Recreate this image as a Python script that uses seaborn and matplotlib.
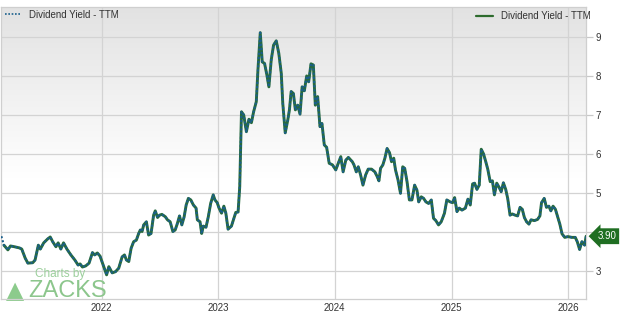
import numpy as np
import pandas as pd
import matplotlib
matplotlib.use("Agg")
import matplotlib.pyplot as plt
import matplotlib.transforms as mtransforms
import seaborn as sns

# ---- data (decimal year, dividend yield %) ----
years = [
    2021.162, 2021.196, 2021.218, 2021.252, 2021.295, 2021.315, 2021.344, 2021.367, 2021.409, 2021.429,
    2021.457, 2021.474, 2021.503, 2021.537, 2021.559, 2021.580, 2021.608, 2021.627, 2021.650, 2021.673,
    2021.702, 2021.736, 2021.770, 2021.798, 2021.815, 2021.835, 2021.864, 2021.892, 2021.921, 2021.940,
    2021.963, 2021.986, 2022.014, 2022.043, 2022.062, 2022.091, 2022.119, 2022.147, 2022.176, 2022.196,
    2022.213, 2022.233, 2022.253, 2022.275, 2022.298, 2022.318, 2022.332, 2022.347, 2022.361, 2022.384,
    2022.403, 2022.424, 2022.446, 2022.460, 2022.480, 2022.497, 2022.517, 2022.546, 2022.565, 2022.588,
    2022.611, 2022.631, 2022.650, 2022.668, 2022.688, 2022.708, 2022.725, 2022.744, 2022.765, 2022.787,
    2022.810, 2022.821, 2022.844, 2022.858, 2022.872, 2022.895, 2022.915, 2022.935, 2022.957, 2022.972,
    2022.991, 2023.008, 2023.029, 2023.049, 2023.066, 2023.085, 2023.114, 2023.134, 2023.151, 2023.171,
    2023.185, 2023.200, 2023.219, 2023.242, 2023.264, 2023.285, 2023.304, 2023.327, 2023.341, 2023.361,
    2023.378, 2023.398, 2023.418, 2023.435, 2023.455, 2023.475, 2023.498, 2023.520, 2023.541, 2023.554,
    2023.575, 2023.597, 2023.611, 2023.626, 2023.645, 2023.662, 2023.682, 2023.702, 2023.720, 2023.739,
    2023.759, 2023.776, 2023.796, 2023.816, 2023.833, 2023.853, 2023.873, 2023.890, 2023.910, 2023.930,
    2023.952, 2023.980, 2024.009, 2024.032, 2024.052, 2024.072, 2024.095, 2024.117, 2024.151, 2024.165,
    2024.185, 2024.202, 2024.222, 2024.242, 2024.265, 2024.287, 2024.316, 2024.344, 2024.364, 2024.379,
    2024.393, 2024.413, 2024.430, 2024.449, 2024.470, 2024.487, 2024.506, 2024.521, 2024.543, 2024.564,
    2024.583, 2024.600, 2024.620, 2024.640, 2024.662, 2024.685, 2024.705, 2024.720, 2024.742, 2024.762,
    2024.782, 2024.805, 2024.828, 2024.847, 2024.867, 2024.890, 2024.913, 2024.941, 2024.961, 2024.990,
    2025.009, 2025.026, 2025.046, 2025.066, 2025.089, 2025.118, 2025.140, 2025.160, 2025.180, 2025.197,
    2025.217, 2025.237, 2025.254, 2025.274, 2025.293, 2025.310, 2025.331, 2025.350, 2025.367, 2025.387,
    2025.408, 2025.425, 2025.444, 2025.464, 2025.481, 2025.501, 2025.521, 2025.544, 2025.566, 2025.587,
    2025.606, 2025.624, 2025.643, 2025.663, 2025.681, 2025.709, 2025.737, 2025.757, 2025.771, 2025.794,
    2025.813, 2025.834, 2025.851, 2025.870, 2025.890, 2025.907, 2025.928, 2025.947, 2025.970, 2025.998,
    2026.032, 2026.061, 2026.078, 2026.098, 2026.118, 2026.141, 2026.154,
]
values = [
    3.67, 3.55, 3.65, 3.63, 3.60, 3.57, 3.34, 3.21, 3.22, 3.29,
    3.67, 3.57, 3.73, 3.83, 3.88, 3.76, 3.63, 3.73, 3.57, 3.73,
    3.57, 3.42, 3.29, 3.16, 3.19, 3.11, 3.14, 3.21, 3.48, 3.42,
    3.47, 3.39, 3.16, 2.91, 3.12, 2.96, 2.99, 3.08, 3.37, 3.42,
    3.29, 3.25, 3.59, 3.76, 3.80, 3.97, 4.06, 4.02, 4.19, 4.27,
    3.93, 3.97, 4.44, 4.55, 4.38, 4.44, 4.46, 4.40, 4.32, 4.27,
    4.02, 4.06, 4.23, 4.42, 4.19, 4.40, 4.70, 4.87, 4.83, 4.70,
    4.62, 4.32, 4.27, 3.97, 4.16, 4.13, 4.40, 4.74, 4.96, 4.83,
    4.76, 4.62, 4.49, 4.67, 4.49, 4.08, 4.16, 4.35, 4.51, 4.52,
    5.17, 7.09, 7.01, 6.58, 6.90, 6.81, 7.09, 7.35, 8.16, 9.12,
    8.37, 8.33, 8.03, 7.73, 8.42, 8.80, 8.91, 8.59, 8.08, 7.31,
    6.55, 6.88, 7.14, 7.61, 7.56, 7.14, 7.26, 7.03, 7.73, 7.63,
    8.01, 7.86, 8.32, 8.29, 7.26, 7.48, 6.71, 6.79, 6.24, 6.18,
    5.77, 5.73, 5.60, 5.78, 5.94, 5.55, 5.85, 5.92, 5.81, 5.73,
    5.55, 5.68, 5.47, 5.21, 5.47, 5.62, 5.62, 5.55, 5.43, 5.32,
    5.64, 5.73, 5.90, 6.15, 6.04, 5.81, 5.90, 5.60, 5.34, 5.00,
    5.68, 5.64, 5.30, 4.83, 4.83, 5.21, 5.08, 4.78, 4.91, 4.87,
    4.78, 4.74, 4.83, 4.36, 4.30, 4.19, 4.27, 4.49, 4.83, 4.78,
    4.76, 4.89, 4.53, 4.62, 4.57, 4.62, 4.85, 4.70, 5.24, 5.26,
    5.10, 5.21, 6.13, 6.01, 5.81, 5.62, 5.30, 5.32, 4.96, 5.26,
    5.15, 5.04, 5.27, 5.10, 4.87, 4.44, 4.47, 4.44, 4.42, 4.64,
    4.59, 4.38, 4.27, 4.21, 4.32, 4.30, 4.33, 4.42, 4.76, 4.87,
    4.64, 4.67, 4.55, 4.67, 4.59, 4.42, 4.21, 3.96, 3.87, 3.89,
    3.87, 3.87, 3.76, 3.56, 3.76, 3.67, 3.90,
]
# dotted series starts one reading earlier
dotted_first_year = 2021.140
dotted_first_value = 3.90

series_label = "Dividend Yield - TTM"
last_label = "3.90"
year_ticks = [2022, 2023, 2024, 2025, 2026]
y_ticks = [3, 4, 5, 6, 7, 8, 9]
y_tick_labels = ["3", "", "5", "6", "7", "8", "9"]  # "4" sits under the value tag
x_range = (2021.139, 2026.155)
y_range = (2.29, 9.785)


def to_date(y):
    y = np.asarray(y, dtype=float)
    base = pd.to_datetime([f"{int(v)}-01-01" for v in np.floor(y)])
    return base + pd.to_timedelta((y - np.floor(y)) * 365.25, unit="D")


df = pd.DataFrame({"date": to_date(years), "value": values})
df_dot = pd.DataFrame({
    "date": to_date([dotted_first_year] + years),
    "value": [dotted_first_value] + values,
})

sns.set_theme(style="white")
plt.rcParams["font.family"] = ["Liberation Sans", "DejaVu Sans"]

fig = plt.figure(figsize=(6.2, 3.15), dpi=100, facecolor="#ffffff")
ax = fig.add_axes([0.002, 16 / 315, 585 / 620, (299 - 6.7) / 315])

# gradient background
grad = np.linspace(0, 1, 256).reshape(-1, 1)
grad = np.clip(grad * 1.7, 0, 1)
cmap = matplotlib.colors.LinearSegmentedColormap.from_list("bg", ["#e2e2e2", "#ffffff"])
ax.imshow(grad, extent=[0, 1, 0, 1], transform=ax.transAxes, cmap=cmap,
          aspect="auto", zorder=0, origin="upper")

green = "#276a3e"
blue = "#1a5f8c"
sns.lineplot(data=df, x="date", y="value", ax=ax, color=green, linewidth=2.1,
             label=series_label, zorder=3)
sns.lineplot(data=df_dot, x="date", y="value", ax=ax, color=blue, linewidth=1.5,
             dashes=False, label=series_label, zorder=4)
# make the overlay dotted
ax.get_lines()[1].set_linestyle((0, (1, 1)))

ax.set_xlim(to_date([x_range[0]])[0], to_date([x_range[1]])[0])
ax.set_ylim(*y_range)
ax.set_xticks(to_date(year_ticks))
ax.set_xticklabels([str(y) for y in year_ticks])
ax.set_yticks(y_ticks)
ax.set_yticklabels(y_tick_labels)
ax.yaxis.tick_right()
ax.set_xlabel("")
ax.set_ylabel("")
ax.grid(True, color="#d3d3d3", linewidth=0.9, zorder=1)
ax.set_axisbelow(True)
ax.tick_params(axis="y", which="both", right=True, length=5, width=0.9,
               color="#c8c8c8", labelsize=7, labelcolor="#333333", pad=2)
ax.tick_params(axis="x", length=0, labelsize=7, labelcolor="#333333", pad=3)
for s in ax.spines.values():
    s.set_color("#cfcfcf")
    s.set_linewidth(0.9)

# legends
lines = ax.get_lines()
leg1 = ax.legend([lines[1]], [series_label], loc="upper left", bbox_to_anchor=(0.006, 0.99),
                 frameon=False, fontsize=7, handlelength=1.7, handletextpad=0.8,
                 borderpad=0, borderaxespad=0, labelcolor="#333333")
leg1.get_lines()[0].set_linewidth(1.2)
ax.add_artist(leg1)
leg2 = ax.legend([lines[0]], [series_label], loc="upper left", bbox_to_anchor=(0.812, 0.985),
                 frameon=False, fontsize=7, handlelength=1.7, handletextpad=0.8,
                 borderpad=0, borderaxespad=0, labelcolor="#333333")
leg2.get_lines()[0].set_color("#2d6b2d")
leg2.get_lines()[0].set_linewidth(1.6)

# last value tag
trans = mtransforms.blended_transform_factory(ax.transAxes, ax.transData)
ax.text(1.019, values[-1], last_label, transform=trans, ha="left", va="center",
        fontsize=7, color="white", zorder=10, clip_on=False,
        bbox=dict(boxstyle="larrow,pad=0.3", fc="#1f6e22", ec="none"))

# watermark
ax.text(0.057, 0.085, "Charts by", transform=ax.transAxes, fontsize=8.5,
        color="#9ccf9c", ha="left", va="center", zorder=2)
ax.text(0.046, 0.028, "ZACKS", transform=ax.transAxes, fontsize=17,
        color="#8cc68c", ha="left", va="center", zorder=2)
ax.text(0.008, 0.028, "\u25B2", transform=ax.transAxes, fontsize=17,
        color="#8ccb8c", ha="left", va="center", zorder=2,
        family=["DejaVu Sans"])

fig.savefig("out.png", dpi=100)
